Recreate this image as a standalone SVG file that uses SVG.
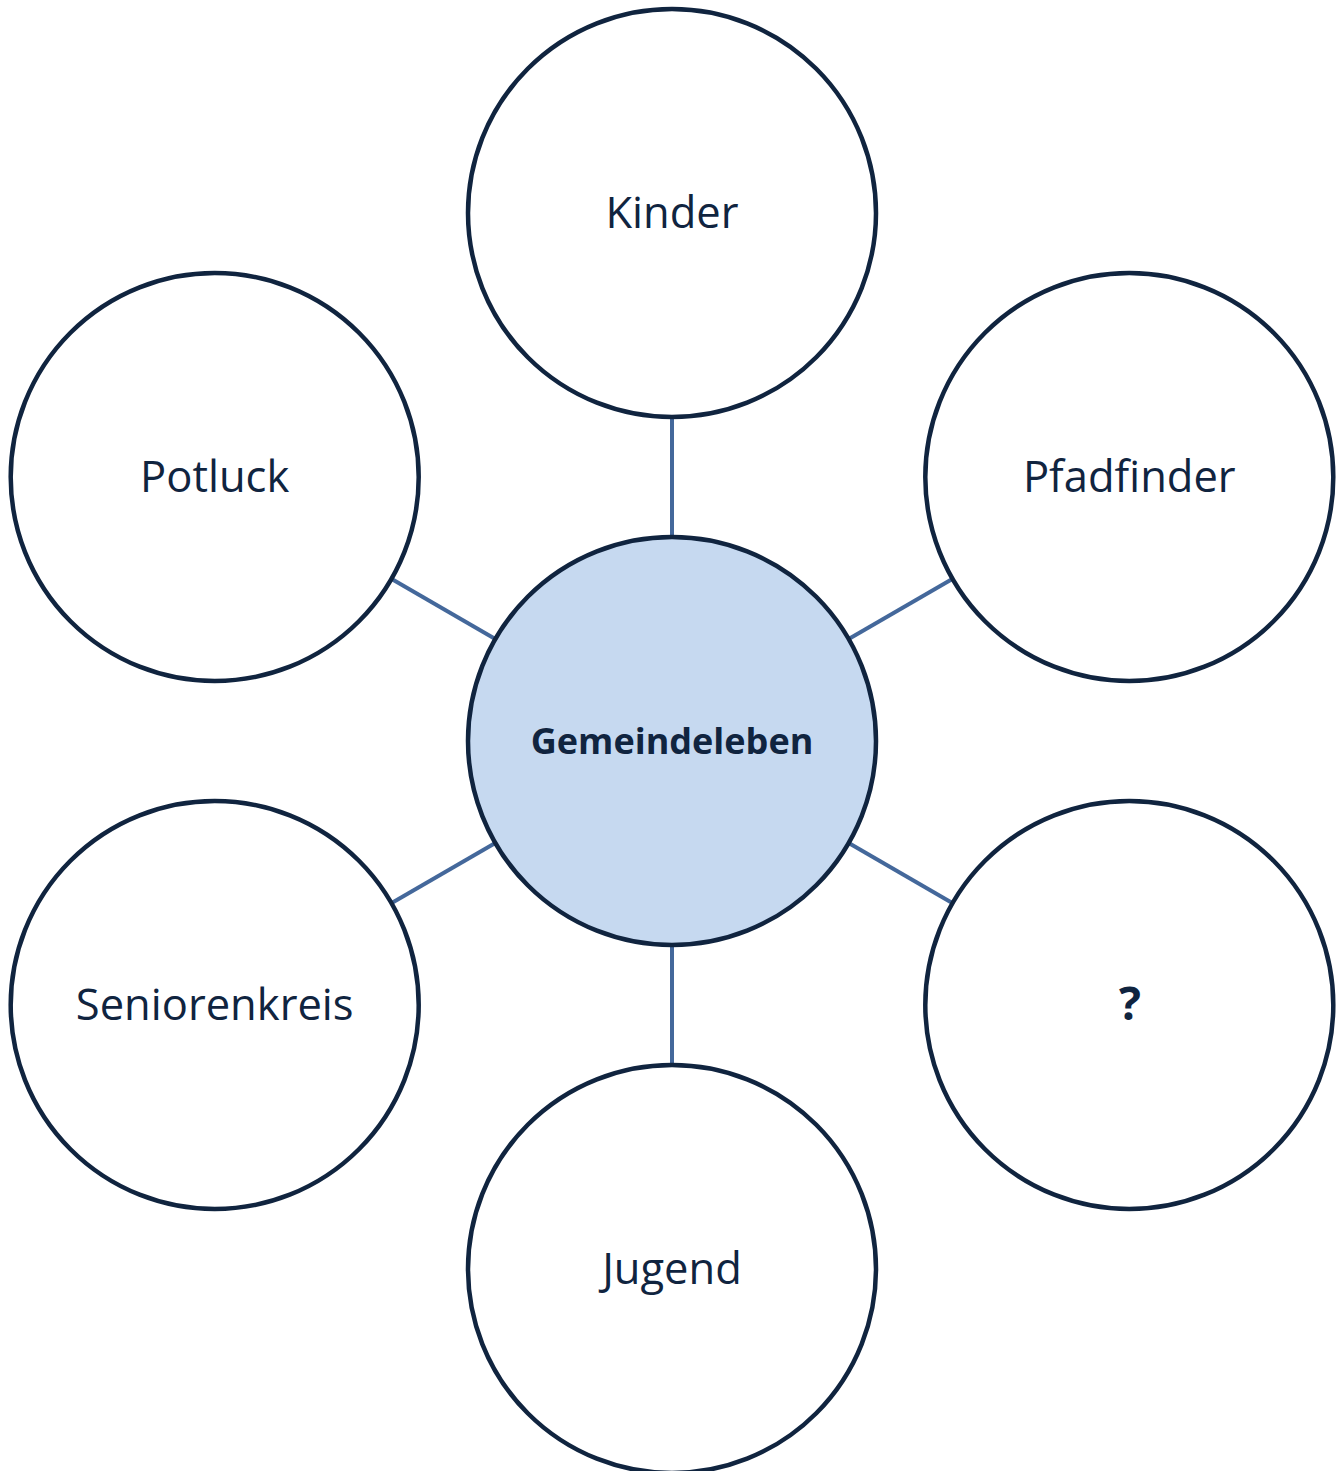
<svg xmlns="http://www.w3.org/2000/svg" width="1341" height="1471" viewBox="0 0 1341 1471">
<style>
.node circle{fill:#ffffff;stroke:#10243f;stroke-width:4.5}
#center circle{fill:#c6d9f0}
text{font-family:"Open Sans","Noto Sans","Liberation Sans",sans-serif;font-size:43.5px;fill:#10243f;text-anchor:middle}
.b{font-weight:bold;font-size:36px}
.q{font-weight:bold;font-size:46px}
#connectors line{stroke:#44689b;stroke-width:4}
</style>
<rect width="1341" height="1471" fill="#ffffff"/>
<g id="connectors">
<line x1="672" y1="417" x2="672" y2="537"/>
<line x1="391.7" y1="579" x2="495.3" y2="639"/>
<line x1="952.3" y1="579" x2="848.7" y2="639"/>
<line x1="391.7" y1="903" x2="495.3" y2="843"/>
<line x1="952.3" y1="903" x2="848.7" y2="843"/>
<line x1="672" y1="945" x2="672" y2="1065"/>
</g>
<g id="center" class="node"><circle cx="672" cy="741" r="204"/><text class="b" x="672" y="754">Gemeindeleben</text></g>
<g id="kinder" class="node"><circle cx="672" cy="213" r="204"/><text x="672" y="228">Kinder</text></g>
<g id="potluck" class="node"><circle cx="214.7" cy="477" r="204"/><text x="214.7" y="492">Potluck</text></g>
<g id="pfadfinder" class="node"><circle cx="1129.3" cy="477" r="204"/><text x="1129.3" y="492">Pfadfinder</text></g>
<g id="seniorenkreis" class="node"><circle cx="214.7" cy="1005" r="204"/><text x="214.7" y="1020">Seniorenkreis</text></g>
<g id="frage" class="node"><circle cx="1129.3" cy="1005" r="204"/><text class="q" x="1130" y="1020">?</text></g>
<g id="jugend" class="node"><circle cx="672" cy="1269" r="204"/><text x="672" y="1284">Jugend</text></g>
</svg>
